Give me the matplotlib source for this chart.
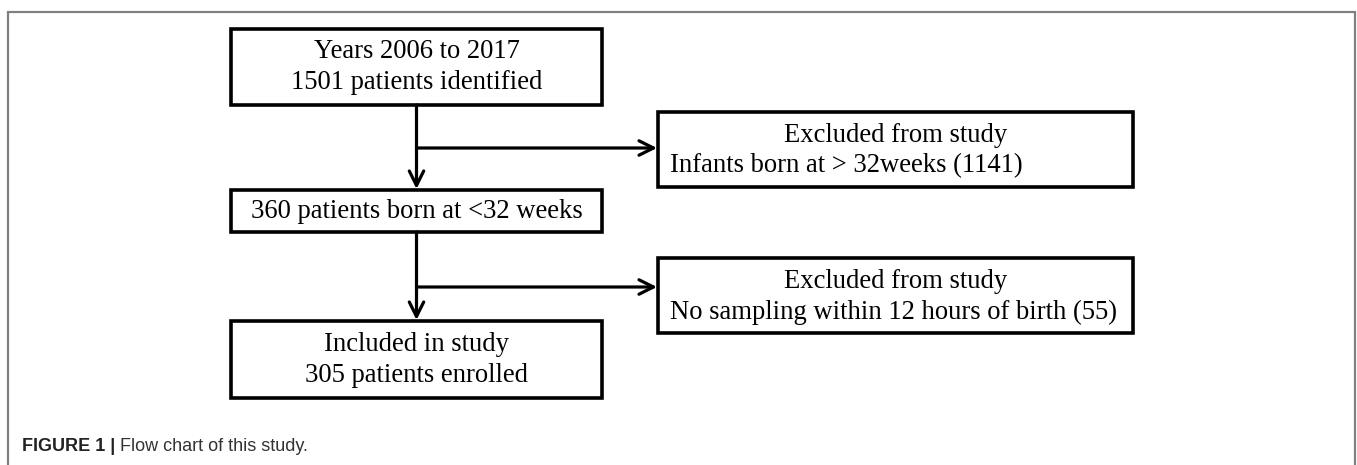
import matplotlib.pyplot as plt
from matplotlib.patches import Rectangle

# flow chart content
main_boxes = [
    ['Years 2006 to 2017', '1501 patients identified'],
    ['360 patients born at <32 weeks'],
    ['Included in study', '305 patients enrolled'],
]
excl_titles = ['Excluded from study', 'Excluded from study']
excl_reasons = ['Infants born at > 32weeks (1141)',
                'No sampling within 12 hours of birth (55)']
caption_bold = 'FIGURE 1 |'
caption_text = 'Flow chart of this study.'

W, H = 1357, 465
fig = plt.figure(figsize=(W / 100, H / 100), dpi=100)
ax = fig.add_axes([0, 0, 1, 1])
ax.set_xlim(0, W)
ax.set_ylim(H, 0)
ax.axis('off')

serif = 'Liberation Serif'
fs = 19.2
lw_box = 2.6
lw_arr = 2.3

# outer frame (open at bottom)
ax.plot([8, 8, 1355, 1355], [470, 12, 12, 470], color='#808080', lw=1.6,
        solid_joinstyle='miter')

# main column boxes: (top, bottom)
main_x0, main_x1 = 231, 602
cx = (main_x0 + main_x1) / 2
main_y = [(29, 105), (190, 232), (321, 398)]

for (y0, y1), lines in zip(main_y, main_boxes):
    ax.add_patch(Rectangle((main_x0, y0), main_x1 - main_x0, y1 - y0,
                           fill=False, ec='black', lw=lw_box))
    if len(lines) == 1:
        ax.text(cx, (y0 + y1) / 2, lines[0], ha='center', va='center',
                fontsize=fs, family=serif)
    else:
        h = y1 - y0
        ax.text(cx, y0 + 0.30 * h, lines[0], ha='center', va='center',
                fontsize=fs, family=serif)
        ax.text(cx, y0 + 0.71 * h, lines[1], ha='center', va='center',
                fontsize=fs, family=serif)

# exclusion boxes
ex_x0, ex_x1 = 658, 1133
ex_y = [(112, 187), (258, 333)]
branch_y = [148, 287]

for (y0, y1), t, r in zip(ex_y, excl_titles, excl_reasons):
    h = y1 - y0
    ax.add_patch(Rectangle((ex_x0, y0), ex_x1 - ex_x0, h,
                           fill=False, ec='black', lw=lw_box))
    ax.text((ex_x0 + ex_x1) / 2, y0 + 0.31 * h, t, ha='center', va='center',
            fontsize=fs, family=serif)
    ax.text(ex_x0 + 12, y0 + 0.72 * h, r, ha='left', va='center',
            fontsize=fs, family=serif)

# arrows down the main column and to the exclusion boxes
arrow_kw = dict(arrowstyle='->', lw=lw_arr, color='black',
                mutation_scale=26, shrinkA=0, shrinkB=0)
for i in range(2):
    ax.annotate('', xy=(cx, main_y[i + 1][0] - 1), xytext=(cx, main_y[i][1]),
                arrowprops=arrow_kw)
    ax.annotate('', xy=(ex_x0 - 1, branch_y[i]), xytext=(cx, branch_y[i]),
                arrowprops=arrow_kw)

# caption: bold label followed by plain text
t = ax.text(22, 446, caption_bold + ' ', ha='left', va='center', fontsize=13,
            family='Liberation Sans', fontweight='bold', color='#222222')
fig.canvas.draw()
bb = t.get_window_extent()
x_end = ax.transData.inverted().transform((bb.x1, bb.y0))[0]
ax.text(x_end, 446, caption_text, ha='left', va='center', fontsize=13,
        family='Liberation Sans', color='#333333')

plt.savefig('out.png', dpi=100)
